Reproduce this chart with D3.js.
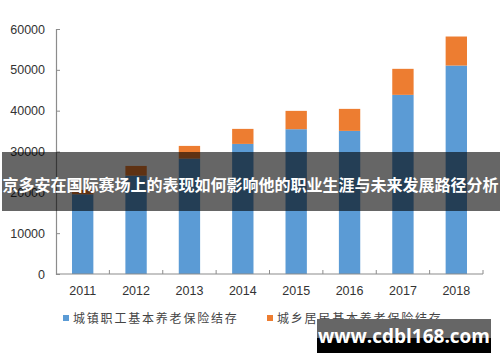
<!DOCTYPE html>
<html lang="zh">
<head>
    <meta charset="utf-8">
    <title>pension_balance</title>
    <script src="https://cdn.jsdelivr.net/npm/d3@7"></script>
    <style type="text/css">
        body { margin: 0; background: #fff; }
        svg { display: block; }
    </style>
</head>
<body>
<script type="text/javascript">

    // values (100 million yuan)
    var years = ["2011", "2012", "2013", "2014", "2015", "2016", "2017", "2018"];
    var urbanWorkers = [19530, 24090, 28260, 31860, 35460, 35050, 43870, 51050];
    var ruralResidents = [1060, 2380, 3110, 3680, 4490, 5390, 6375, 7110];
    var yTicks = [0, 10000, 20000, 30000, 40000, 50000, 60000];
    var seriesNames = ["城镇职工基本养老保险结存", "城乡居民基本养老保险结存"];
    var seriesColors = ["#5B9BD5", "#ED7D31"];
    var bannerText = "京多安在国际赛场上的表现如何影响他的职业生涯与未来发展路径分析";
    var watermark = "www.cdbl168.com";

    var width = 500, height = 362;

    var svg = d3.select("body")
        .append("svg")
        .attr("width", width)
        .attr("height", height);

    var x = d3.scaleBand()
        .domain(years)
        .range([56, 483])
        .paddingInner(0.6)
        .paddingOuter(0.3);

    var y = d3.scaleLinear()
        .domain([0, 60000])
        .range([274, 29]);

    var rows = years.map(function (yr, i) {
        return { year: yr, a: urbanWorkers[i], b: ruralResidents[i] };
    });

    // bars
    svg.selectAll("rect.urban")
        .data(rows)
        .enter()
        .append("rect")
        .attr("class", "urban")
        .attr("x", d => x(d.year))
        .attr("y", d => y(d.a))
        .attr("width", x.bandwidth())
        .attr("height", d => y(0) - y(d.a))
        .attr("fill", seriesColors[0]);

    svg.selectAll("rect.rural")
        .data(rows)
        .enter()
        .append("rect")
        .attr("class", "rural")
        .attr("x", d => x(d.year))
        .attr("y", d => y(d.a + d.b))
        .attr("width", x.bandwidth())
        .attr("height", d => y(d.a) - y(d.a + d.b))
        .attr("fill", seriesColors[1]);

    // y axis
    var yAxis = svg.append("g")
        .attr("transform", "translate(56,0)")
        .call(d3.axisRight(y).tickValues(yTicks).tickSize(4).tickFormat(d3.format("d")));
    yAxis.select(".domain").attr("stroke", "#8c8c8c").attr("stroke-width", 1.2);
    yAxis.selectAll(".tick line").attr("stroke", "#8c8c8c");
    yAxis.selectAll(".tick text")
        .attr("x", -11)
        .attr("text-anchor", "end")
        .attr("fill", "#333")
        .style("font-family", "'Liberation Sans', Arial, sans-serif")
        .style("font-size", "12.5px");

    // x axis line + boundary ticks
    var xAxis = svg.append("g");
    xAxis.append("line")
        .attr("x1", 56).attr("x2", 483)
        .attr("y1", y(0)).attr("y2", y(0))
        .attr("stroke", "#8c8c8c")
        .attr("stroke-width", 1.2);
    var bounds = years.map(function (yr) { return x(yr) - x.step() * 0.3; }).concat([483]);
    xAxis.selectAll("line.tk")
        .data(bounds.slice(1))
        .enter()
        .append("line")
        .attr("class", "tk")
        .attr("x1", d => d).attr("x2", d => d)
        .attr("y1", y(0)).attr("y2", y(0) - 4)
        .attr("stroke", "#8c8c8c");
    xAxis.selectAll("text")
        .data(years)
        .enter()
        .append("text")
        .attr("x", d => x(d) + x.bandwidth() / 2)
        .attr("y", 295)
        .attr("text-anchor", "middle")
        .attr("fill", "#333")
        .style("font-family", "'Liberation Sans', Arial, sans-serif")
        .style("font-size", "12.5px")
        .text(d => d);

    // legend
    var legendX = [63, 267];
    var legend = svg.selectAll("g.legend")
        .data(seriesNames)
        .enter()
        .append("g")
        .attr("class", "legend")
        .attr("transform", (d, i) => "translate(" + legendX[i] + ",315)");
    legend.append("rect")
        .attr("width", 6).attr("height", 6)
        .attr("fill", (d, i) => seriesColors[i]);
    legend.append("text")
        .attr("x", 10)
        .attr("y", 7.5)
        .attr("fill", "#444")
        .style("font-family", "'Noto Sans CJK SC', sans-serif")
        .style("font-size", "12px")
        .style("letter-spacing", "1.8px")
        .text(d => d);

    // overlay banner
    svg.append("rect")
        .attr("x", 2).attr("y", 152)
        .attr("width", width - 2).attr("height", 59)
        .attr("fill", "#000")
        .attr("fill-opacity", 0.6);
    svg.append("text")
        .attr("x", width / 2 + 0.5)
        .attr("y", 191)
        .attr("text-anchor", "middle")
        .attr("fill", "#fff")
        .style("font-family", "'Noto Sans CJK SC', sans-serif")
        .style("font-weight", "bold")
        .style("font-size", "16px")
        .text(bannerText);

    // watermark box
    svg.append("rect")
        .attr("x", 317).attr("y", 319)
        .attr("width", 174).attr("height", 19)
        .attr("fill", "#666");
    svg.append("rect")
        .attr("x", 317).attr("y", 338)
        .attr("width", 174).attr("height", 15)
        .attr("fill", "#000");
    svg.append("text")
        .attr("x", 404)
        .attr("y", 343)
        .attr("text-anchor", "middle")
        .attr("fill", "#fff")
        .style("font-family", "'Open Sans', 'DejaVu Sans', sans-serif")
        .style("font-weight", "bold")
        .style("font-size", "19px")
        .text(watermark);

</script>
</body>
</html>
